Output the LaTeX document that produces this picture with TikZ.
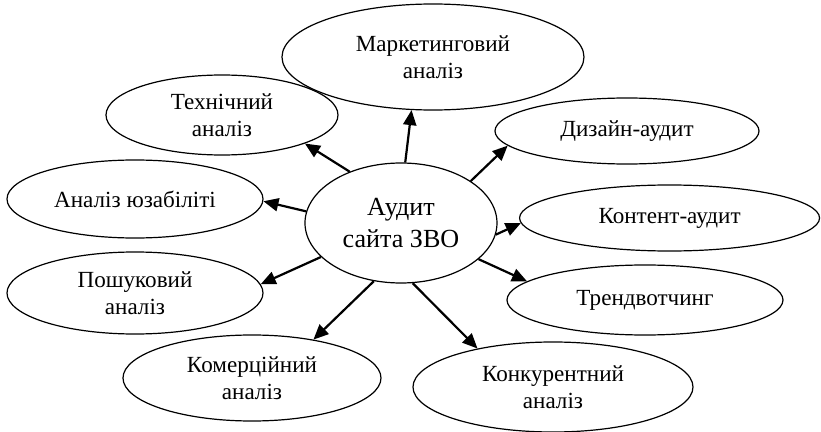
\documentclass[tikz,border=0pt]{standalone}
\usepackage{fontspec}
\setmainfont{Liberation Serif}
\usetikzlibrary{shapes.geometric,arrows.meta}

\begin{document}
\begin{tikzpicture}% audit map
			\tikzstyle{mainpart} = [ellipse, draw=black, line width=1.2pt, inner sep=0pt, minimum width=6.72cm, minimum height=4.2cm, text centered, align=center, font=\fontsize{26}{31}\selectfont]
			\tikzstyle{subpart} = [ellipse, draw=black, line width=1.2pt, inner sep=0pt, text centered, align=center, font=\fontsize{23}{27}\selectfont]
			\tikzstyle{link} = [-{Triangle[length=15pt,width=13pt]}, line width=2.2pt]
			\useasboundingbox (-14.035,-7.315) rectangle (14.7,7.805);
			
			\node (audit) [mainpart] {Аудит\\сайта ЗВО};
			
			\node (market) [subpart, minimum width=10.57cm, minimum height=3.71cm, xshift=1.12cm, yshift=5.81cm] {Маркетинговий\\аналіз};
			\node (tech) [subpart, minimum width=8.12cm, minimum height=2.8cm, xshift=-6.265cm, yshift=3.78cm] {Технічний\\аналіз};
			\node (usab) [subpart, minimum width=8.96cm, minimum height=2.73cm, xshift=-9.31cm, yshift=0.84cm] {Аналіз юзабіліті};
			\node (search) [subpart, minimum width=8.96cm, minimum height=2.87cm, xshift=-9.31cm, yshift=-2.45cm] {Пошуковий\\аналіз};
			\node (comm) [subpart, minimum width=9.03cm, minimum height=3.01cm, xshift=-5.215cm, yshift=-5.425cm] {Комерційний\\аналіз};
			\node (compet) [subpart, minimum width=9.8cm, minimum height=3.15cm, xshift=5.32cm, yshift=-5.74cm] {Конкурентний\\аналіз};
			\node (trend) [subpart, minimum width=9.66cm, minimum height=2.45cm, xshift=8.54cm, yshift=-2.695cm] {Трендвотчинг};
			\node (content) [subpart, minimum width=10.5cm, minimum height=2.31cm, xshift=9.4cm, yshift=0.175cm] {Контент-аудит};
			\node (design) [subpart, minimum width=9.24cm, minimum height=2.31cm, xshift=7.91cm, yshift=3.22cm] {Дизайн-аудит};
			
			\draw[link] (audit.86) -- (market.248);
			\draw[link] (audit.135.5) -- (tech.341.7);
			\draw[link] (audit.173.5) -- (usab.-1.3);
			\draw[link] (audit.203.1) -- (search.4.9);
			\draw[link] (audit.245.8) -- (comm.32.7);
			\draw[link] (audit.281.3) -- (compet.153.4);
			\draw[link] (audit.335.3) -- (trend.171.8);
			\draw[link] (audit.353.9) -- (content.182.3);
			\draw[link] (audit.31.5) -- (design.187.6);
			
	\end{tikzpicture}
\end{document}
